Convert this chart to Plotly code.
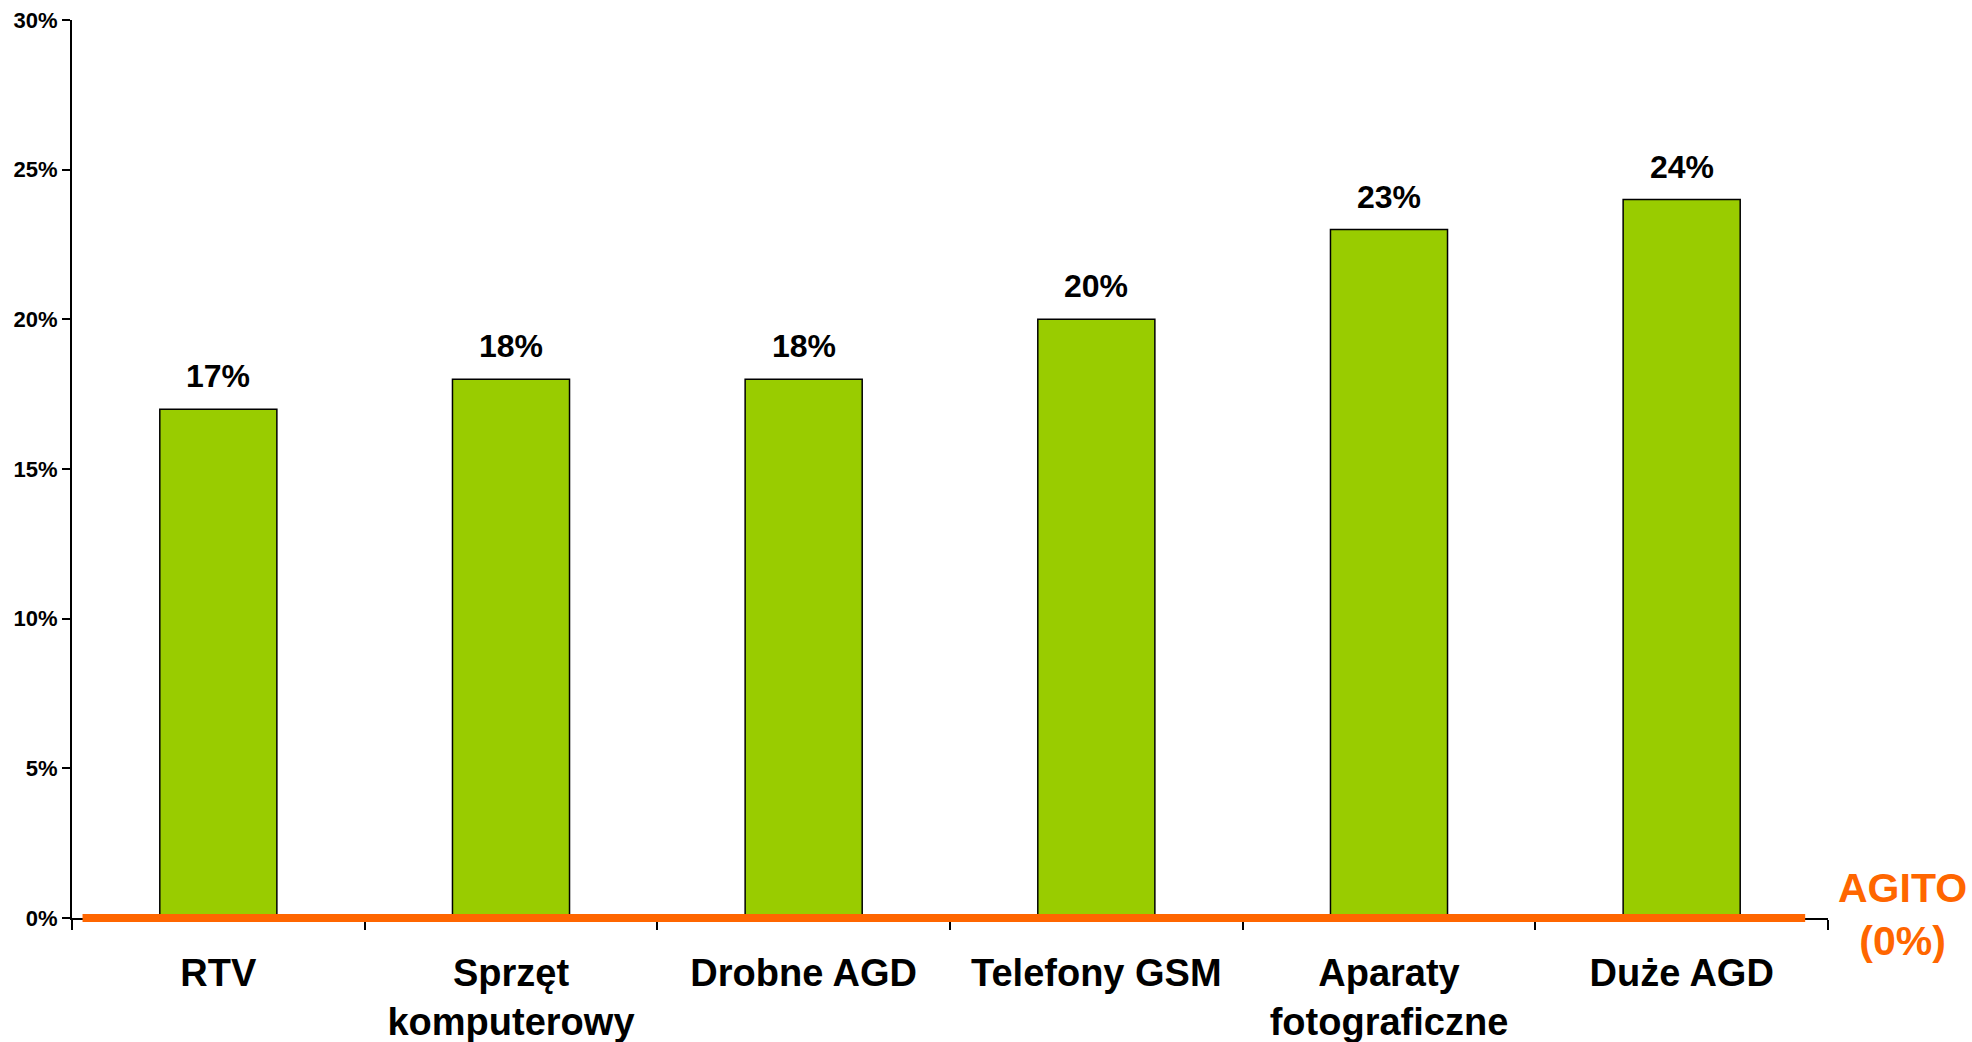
import plotly.graph_objects as go

categories = ["RTV", "Sprzęt<br>komputerowy", "Drobne AGD", "Telefony GSM", "Aparaty<br>fotograficzne", "Duże AGD"]
values = [17, 18, 18, 20, 23, 24]
value_labels = ["17%", "18%", "18%", "20%", "23%", "24%"]
agito_value = 0
agito_label = "AGITO<br>(0%)"
y_ticks = [0, 5, 10, 15, 20, 25, 30]
y_tick_labels = ["0%", "5%", "10%", "15%", "20%", "25%", "30%"]
y_range = [0, 30]

FONT = "Liberation Sans, Arial, sans-serif"

fig = go.Figure()
fig.add_trace(go.Bar(
    x=categories, y=values, width=0.4,
    marker=dict(color="#99CC00", line=dict(color="black", width=1.5)),
    hoverinfo="skip", showlegend=False,
))

# AGITO reference line (value 0%), placed through the y-axis range (unclipped)
agito_dom = (agito_value - y_range[0]) / (y_range[1] - y_range[0])
fig.add_shape(type="line", xref="paper", yref="y domain", x0=0.006, x1=0.987,
              y0=agito_dom, y1=agito_dom, layer="above",
              line=dict(color="#FF6600", width=8))

for c, v, t in zip(categories, values, value_labels):
    fig.add_annotation(x=c, y=v, text=f"<b>{t}</b>", showarrow=False,
                       yanchor="bottom", yshift=13,
                       font=dict(family=FONT, size=32, color="black"))

fig.add_annotation(xref="paper", yref="y", x=1.0427, y=agito_value, text=f"<b>{agito_label}</b>",
                   showarrow=False, xanchor="center", yanchor="middle", yshift=4,
                   font=dict(family=FONT, size=41, color="#FF6600"))

def bold_multiline(s):
    return "<br>".join(f"<b>{p}</b>" for p in s.split("<br>"))

fig.update_layout(
    width=1972, height=1042,
    margin=dict(l=72, r=144, t=20, b=124),
    paper_bgcolor="white", plot_bgcolor="white",
    bargap=0.6,
    xaxis=dict(
        showline=True, linecolor="black", linewidth=2, layer="below traces",
        ticks="outside", tickson="boundaries", ticklen=10, tickwidth=1.5, tickcolor="black",
        tickvals=categories, ticktext=[bold_multiline(c) for c in categories],
        tickfont=dict(family=FONT, size=38, color="black"),
        ticklabelstandoff=20, automargin=False,
        showgrid=False, zeroline=False, tickangle=0,
    ),
    yaxis=dict(
        range=y_range, tickvals=y_ticks, ticktext=[f"<b>{t}</b>" for t in y_tick_labels],
        showline=True, linecolor="black", linewidth=2, automargin=False,
        ticks="outside", ticklen=8, tickwidth=1.5, tickcolor="black",
        tickfont=dict(family=FONT, size=22, color="black"),
        showgrid=False, zeroline=False,
    ),
)

fig.write_html("out.html", config={"displayModeBar": False},
               post_script="document.body.style.margin='0';")
